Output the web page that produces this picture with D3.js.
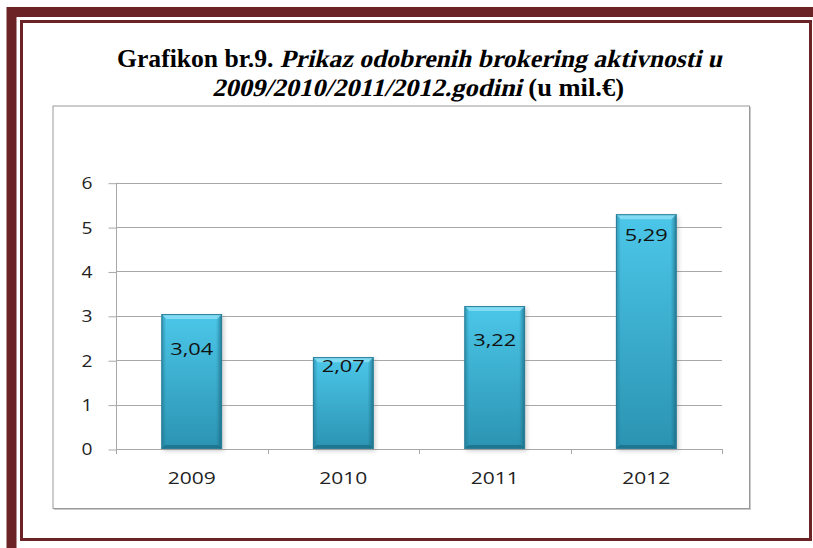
<!DOCTYPE html>
<html>
<head>
<meta charset="utf-8">
<script src="https://cdn.jsdelivr.net/npm/d3@7"></script>
<style>
  html, body { margin: 0; padding: 0; background: #fff; }
  svg { display: block; }
</style>
</head>
<body>
<div id="chart"></div>
<script>
// chart data
var years = ['2009', '2010', '2011', '2012'];
var values = [3.04, 2.07, 3.22, 5.29];
var valueLabels = ['3,04', '2,07', '3,22', '5,29'];
var yTicks = [0, 1, 2, 3, 4, 5, 6];
// where excel left each data label (px below bar top)
var labelDy = [41, 15, 40, 27];

var width = 813, height = 548;
var plotLeft = 116, plotRight = 722, plotTop = 182.7, plotBottom = 449;
var labelFont = '"Open Sans", sans-serif';

var svg = d3.select('#chart').append('svg')
  .attr('width', width)
  .attr('height', height);

svg.append('rect').attr('width', width).attr('height', height).attr('fill', '#fff');

var defs = svg.append('defs');
var g1 = defs.append('linearGradient').attr('id', 'barFill')
  .attr('x1', 0).attr('y1', 0).attr('x2', 0).attr('y2', 1);
g1.append('stop').attr('offset', '0%').attr('stop-color', '#4cc7e9');
g1.append('stop').attr('offset', '100%').attr('stop-color', '#2b93b2');

var g2 = defs.append('linearGradient').attr('id', 'barSide')
  .attr('x1', 0).attr('y1', 0).attr('x2', 1).attr('y2', 0);
g2.append('stop').attr('offset', '0%').attr('stop-color', '#1c6f88').attr('stop-opacity', 0.55);
g2.append('stop').attr('offset', '8%').attr('stop-color', '#1c6f88').attr('stop-opacity', 0);
g2.append('stop').attr('offset', '90%').attr('stop-color', '#1c6f88').attr('stop-opacity', 0);
g2.append('stop').attr('offset', '100%').attr('stop-color', '#13586d').attr('stop-opacity', 0.7);

defs.append('filter').attr('id', 'shadow')
  .append('feGaussianBlur').attr('stdDeviation', 2);

// page frame
svg.append('rect')
  .attr('x', 11.5).attr('y', 12).attr('width', 815).attr('height', 545)
  .attr('fill', 'none').attr('stroke', '#6b2326').attr('stroke-width', 10);
svg.append('rect')
  .attr('x', 21.5).attr('y', 21.5).attr('width', 789).attr('height', 518)
  .attr('fill', 'none').attr('stroke', '#6b2326').attr('stroke-width', 3);

// title: bold serif, italic parts slanted by hand, each line squeezed to width
function titleLine(pieces, x0, y0, targetW) {
  var g = svg.append('g');
  var cx = 0;
  pieces.forEach(function (p) {
    var t = g.append('text')
      .attr('transform', 'translate(' + cx + ',0)' + (p[1] ? ' skewX(-13)' : ''))
      .style('font-family', '"Liberation Serif", serif')
      .style('font-size', '25px').style('font-weight', 'bold')
      .style('white-space', 'pre')
      .attr('fill', '#000')
      .text(p[0]);
    cx += t.node().getComputedTextLength();
  });
  g.attr('transform', 'translate(' + x0 + ',' + y0 + ') scale(' + (targetW / cx) + ',1)');
}
titleLine([['Grafikon br.9. ', false], ['Prikaz odobrenih brokering aktivnosti u', true]], 117, 67, 605);
titleLine([['2009/2010/2011/2012.godini', true], [' (u mil.€)', false]], 212, 96, 412);

// chart area box
svg.append('rect')
  .attr('x', 54).attr('y', 107).attr('width', 697).attr('height', 403)
  .attr('fill', '#c8c8c8');
svg.append('rect')
  .attr('x', 53).attr('y', 106).attr('width', 696.5).attr('height', 402.5)
  .attr('fill', '#fff').attr('stroke', '#9a9a9a').attr('stroke-width', 1);

var y = d3.scaleLinear().domain([0, 6]).range([plotBottom, plotTop]);
var x = d3.scaleBand().domain(years).range([plotLeft, plotRight])
  .paddingInner(0.6).paddingOuter(0.3);
var edge = d3.scaleLinear().domain([0, years.length]).range([plotLeft, plotRight]);

// gridlines
svg.append('g').selectAll('line').data(yTicks.slice(1)).enter().append('line')
  .attr('x1', plotLeft).attr('x2', plotRight)
  .attr('y1', function (d) { return Math.round(y(d)) + 0.5; })
  .attr('y2', function (d) { return Math.round(y(d)) + 0.5; })
  .attr('stroke', '#a8a8a8').attr('stroke-width', 1);

// y axis
var yAxis = svg.append('g')
  .attr('transform', 'translate(' + (plotLeft + 0.5) + ',0.5)')
  .call(d3.axisLeft(y).tickValues(yTicks).tickSize(8).tickPadding(16).tickFormat(d3.format('d')));
yAxis.select('.domain').remove();
yAxis.selectAll('.tick line').attr('stroke', '#a8a8a8');
yAxis.selectAll('text')
  .style('font-family', labelFont)
  .style('font-size', '17px')
  .attr('textLength', 11).attr('lengthAdjust', 'spacingAndGlyphs')
  .attr('fill', '#222');
svg.append('line')
  .attr('x1', plotLeft + 0.5).attr('x2', plotLeft + 0.5)
  .attr('y1', plotTop).attr('y2', plotBottom + 4)
  .attr('stroke', '#a8a8a8');

// x axis
svg.append('line')
  .attr('x1', plotLeft).attr('x2', plotRight)
  .attr('y1', Math.round(plotBottom) + 0.5).attr('y2', Math.round(plotBottom) + 0.5)
  .attr('stroke', '#a8a8a8');
svg.append('g').selectAll('line').data(d3.range(years.length + 1)).enter().append('line')
  .attr('x1', function (d) { return Math.round(edge(d)) + 0.5; })
  .attr('x2', function (d) { return Math.round(edge(d)) + 0.5; })
  .attr('y1', plotBottom).attr('y2', plotBottom + 5)
  .attr('stroke', '#a8a8a8');
svg.append('g').selectAll('text').data(years).enter().append('text')
  .attr('x', function (d) { return x(d) + x.bandwidth() / 2; })
  .attr('y', 484)
  .attr('text-anchor', 'middle')
  .attr('textLength', 48).attr('lengthAdjust', 'spacingAndGlyphs')
  .style('font-family', labelFont)
  .style('font-size', '17px')
  .attr('fill', '#222')
  .text(function (d) { return d; });

// bars
var bars = svg.append('g').selectAll('g').data(values).enter().append('g');
bars.append('rect')
  .attr('x', function (d, i) { return x(years[i]) + 2; })
  .attr('y', function (d) { return y(d) + 2; })
  .attr('width', x.bandwidth())
  .attr('height', function (d) { return plotBottom - y(d); })
  .attr('fill', '#777').attr('opacity', 0.35)
  .attr('filter', 'url(#shadow)');
bars.append('rect')
  .attr('x', function (d, i) { return x(years[i]); })
  .attr('y', function (d) { return y(d); })
  .attr('width', x.bandwidth())
  .attr('height', function (d) { return plotBottom - y(d); })
  .attr('fill', 'url(#barFill)');
bars.append('rect')
  .attr('x', function (d, i) { return x(years[i]); })
  .attr('y', function (d) { return y(d); })
  .attr('width', x.bandwidth())
  .attr('height', function (d) { return plotBottom - y(d); })
  .attr('fill', 'url(#barSide)');
// bevel top and bottom
bars.append('path')
  .attr('d', function (d, i) {
    var x0 = x(years[i]), x1 = x0 + x.bandwidth(), t = y(d);
    return 'M' + x0 + ',' + t + 'L' + x1 + ',' + t + 'L' + (x1 - 5) + ',' + (t + 5) + 'L' + (x0 + 5) + ',' + (t + 5) + 'Z';
  })
  .attr('fill', '#8fe0f5').attr('opacity', 0.8);
bars.append('path')
  .attr('d', function (d, i) {
    var x0 = x(years[i]), x1 = x0 + x.bandwidth(), b = plotBottom;
    return 'M' + x0 + ',' + b + 'L' + x1 + ',' + b + 'L' + (x1 - 4) + ',' + (b - 4) + 'L' + (x0 + 4) + ',' + (b - 4) + 'Z';
  })
  .attr('fill', '#1a6a82').attr('opacity', 0.7);
bars.append('rect')
  .attr('x', function (d, i) { return x(years[i]) + 0.5; })
  .attr('y', function (d) { return y(d) + 0.5; })
  .attr('width', x.bandwidth() - 1)
  .attr('height', function (d) { return plotBottom - y(d) - 1; })
  .attr('fill', 'none').attr('stroke', '#2a7f99').attr('stroke-width', 1);

bars.append('text')
  .attr('x', function (d, i) { return x(years[i]) + x.bandwidth() / 2; })
  .attr('y', function (d, i) { return y(d) + labelDy[i]; })
  .attr('text-anchor', 'middle')
  .attr('textLength', 43).attr('lengthAdjust', 'spacingAndGlyphs')
  .style('font-family', labelFont)
  .style('font-size', '17px')
  .attr('fill', '#111')
  .text(function (d, i) { return valueLabels[i]; });
</script>
</body>
</html>
